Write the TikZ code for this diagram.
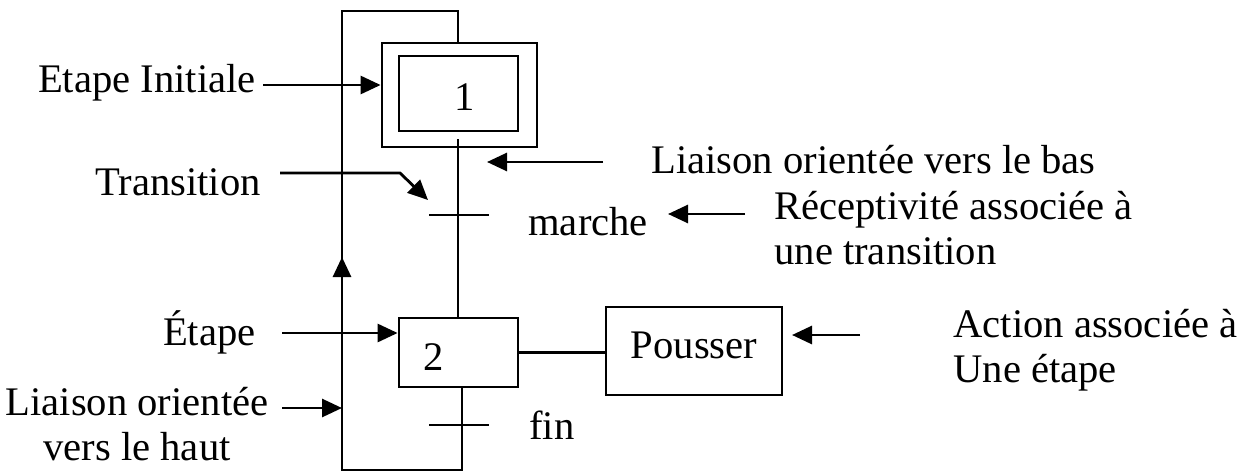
\documentclass[tikz,border=0pt]{standalone}
\usepackage{fontspec}
\setmainfont{Liberation Serif}
\usetikzlibrary{arrows.meta}

\begin{document}
\begin{tikzpicture}[x=0.5pt,y=-0.5pt,line width=1.4pt,
  txt/.style={inner sep=0pt,font=\fontsize{20.3pt}{22.5pt}\selectfont},
  boite/.style={draw,rectangle,inner sep=0pt},
  fl/.style={-{Triangle[length=10pt,width=9pt]}}]
\useasboundingbox (0,0) rectangle (1245,471);

\node[boite,minimum width=77.5pt,minimum height=52pt] (e1out) at (459.5,95) {};
\node[boite,minimum width=59.5pt,minimum height=37.5pt] (e1) at (458.5,93.5) {};
\node[txt] (n1) at (465,97) {1};
\node[boite,minimum width=59.5pt,minimum height=34.5pt] (e2) at (458.5,352.5) {};
\node[txt] (n2) at (434,357) {2};
\node[boite,minimum width=88pt,minimum height=44pt] (act) at (694,351) {};
\node[txt] (pousser) at (694,345) {Pousser};

\coordinate (l1) at (458,139);
\coordinate (t1) at (459,215);
\coordinate (t2) at (462,425);
\coordinate (bot) at (462,470);
\coordinate (bl) at (342,470);
\coordinate (tl) at (342,11);
\coordinate (tr) at (458,11);
\coordinate (m) at (342,257);

\draw (l1) -- (l1 |- e2.north);
\draw (e2.south -| bot) -- (bot) -- (bl) -- (tl) -- (tr) -- (tr |- e1out.north);
\draw ([xshift=-15pt]t1) -- ([xshift=15pt]t1);
\draw ([xshift=-16.5pt]t2) -- ([xshift=13.5pt]t2);
\draw (e2.east) -- (act.west |- e2.east);
\draw[fl] ([yshift=-10pt]m) -- (m);

\node[txt,anchor=east] (ei) at (257,83) {Etape Initiale};
\node[txt,anchor=west] (lb) at (650,160) {Liaison orientée vers le bas};
\node[txt,anchor=east] (tr1) at (262,182) {Transition};
\node[txt,anchor=west] (ma) at (527,222) {marche};
\node[txt,anchor=west,align=left] (rec) at (773,228) {Réceptivité associée à\\une transition};
\node[txt,anchor=east] (et) at (257,332) {Étape};
\node[txt,align=center] (lh) at (137,424) {Liaison orientée\\vers le haut};
\node[txt,anchor=west] (fin) at (528,425) {fin};
\node[txt,anchor=west,align=left] (aa) at (952,350) {Action associée à\\Une étape};

\coordinate (a1) at (263,85);
\coordinate (a2) at (603,162);
\coordinate (b2) at (487,162);
\coordinate (a3) at (280,173);
\coordinate (k3) at (400,173);
\coordinate (b3) at (428,200);
\coordinate (a4) at (745,214);
\coordinate (b4) at (668,214);
\coordinate (a5) at (282,333);
\coordinate (a6) at (282,408);
\coordinate (a7) at (860,335);
\coordinate (b7) at (792,335);

\draw[fl] (a1) -- (a1 -| e1out.west);
\draw[fl] (a2) -- (b2);
\draw[fl] (a3) -- (k3) -- (b3);
\draw[fl] (a4) -- (b4);
\draw[fl] (a5) -- (a5 -| e2.west);
\draw[fl] (a6) -- (a6 -| tl);
\draw[fl] (a7) -- (b7);
\end{tikzpicture}
\end{document}
